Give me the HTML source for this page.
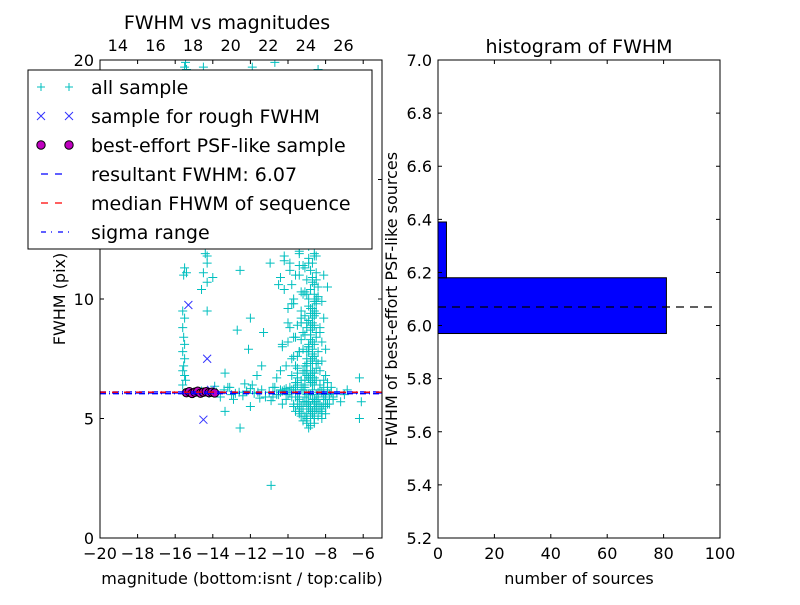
<!DOCTYPE html>
<html><head><meta charset="utf-8">
<style>
body{margin:0;background:#fff;}
svg{font-family:"DejaVu Sans","Liberation Sans",sans-serif;}
</style></head>
<body>
<svg id="fig" width="800" height="600" viewBox="0 0 800 600">
<rect width="800" height="600" fill="#fff"/>
<g id="left"></g>
<g id="right"></g>
</svg>
<script>
// ---------- data ----------
const allMag = [
-15.5,-15.45,-15.4,-14.5,-11.9,-10.7,-8.4,-14.4,-9.4,-10.2,
-15.4,-14.5,-14.3,-14.3,-14.3,-14.6,-14.0,-14.3,-12.55,-12.7,-12.0,-12.1,-13.35,-11.65,-13.35,-12.0,-12.55,-10.95,-11.3,-11.4,-8.1,-6.2,-6.1,-6.2,-6.85,-8.9,-10.9,
-15.6,-15.5,-15.6,-15.55,-15.5,-15.6,-15.5,-15.55,-15.6,-15.5,-15.45,-15.6,-15.5,-15.55,
-15.0,-14.6,-14.2,-13.8,-13.4,-13.0,-12.6,-12.2,-11.8,-11.4,-11.0,-10.6,-10.3,-13.6,-13.2,-12.8,-12.4,-12.0,-11.6,-11.2,-10.8,-10.4,-13.9,-12.9,-11.9,-10.9,-12.3,-11.5,-13.1,-10.1,
-10.0,-9.8,-9.6,-9.4,-9.2,-9.0,-8.8,-8.6,-8.4,-8.2,-8.0,-7.8,-7.6,-7.4,-7.2,-7.0,-9.9,-9.7,-9.5,-9.3,-9.1,-8.9,-8.7,-8.5,-8.3,-8.1,-7.9,-7.7,
-9.6,-9.4,-9.2,-9.0,-8.8,-8.6,-8.4,-8.2,-8.0,-9.5,-9.3,-9.1,-8.9,-8.7,-8.5,-8.3,-8.1,-7.9,-9.7,-9.0,-8.6,-8.2,
-9.2,-9.0,-8.9,-8.8,-8.7,-8.6,-8.5,-9.1,-8.9,-8.8,-8.7,-8.6,-8.5,-8.4,-9.0,-8.8,-8.7,-8.6,-8.5,-8.9,-8.7,-8.6,-8.5,-8.8,-8.7,-8.6,-8.9,-8.8,-8.6,-8.7,-8.5,-8.8,-8.6,-8.7,-8.9,-8.8,
-9.6,-9.8,-10.1,-9.5,-10.3,-9.9,-9.3,-10.0,-9.7,-10.2,-9.4,-9.9,-10.4,-9.6,-9.2,-10.6,-9.5,-9.8,-10.0,-9.3,-9.7,-10.5,-9.1,-9.4,
-9.0,-8.6,-8.2,-7.8,-9.2,-8.8,-8.4,-8.0,-9.4,-8.5,-7.6,-8.9,-8.3,-8.7,-9.1,-8.1,
-9.1,-8.9,-8.7,-8.5,-9.0,-8.8,-8.6,-8.4,-9.2,-8.9,-8.7,-8.5,-9.1,-8.8,-8.6,-9.0,-8.7,-8.5,-9.3,-8.9,-8.6,-8.4,-9.1,-8.8,-8.6,-9.0,-8.7,-8.5,-9.2,-8.9,-8.7,-9.0,-8.8,-8.6,-9.1,-8.8,-8.5,-9.0,-8.7,-9.2,-8.9,-8.6,-9.1,-8.8,-9.0,-8.7,-9.3,-9.0,-8.8,-9.1,
-10.8,-10.5,-10.2,-9.9,-9.6,-9.3,-9.0,-8.7,-8.4,-8.1,-7.8,-10.7,-10.4,-10.1,-9.8,-9.5,-9.2,-8.9,-8.6,-8.3,-8.0,-7.7,-10.3,-9.7,-9.1,-8.5,-7.9,-9.4,-8.8,-8.2,
-9.5,-9.2,-8.9,-8.6,-8.3,-9.4,-9.1,-8.8,-8.5,-8.2,-9.3,-9.0,-8.7,-8.4,-9.6,-9.0,-8.6,-8.8,
-9.6,-9.4,-8.2,-8.0,-9.7,-9.5,-8.3,-8.1,-9.8,-9.3,-8.2,-7.9,-9.6,-9.4,-8.3,-8.0,-9.5,-8.1,-9.7,-8.2,
-10.2,-9.9,-9.4,-8.9,-8.5,-10.4,-9.8,-9.2,-8.8,-8.3,-10.0,-9.6,-9.0,-8.4,-10.3,-9.5
];
const allFwhm = [
19.7,19.9,19.6,19.7,19.7,19.9,19.6,11.9,12.0,11.8,
11.1,11.1,11.8,11.5,10.7,10.4,10.9,9.5,11.2,8.7,9.2,7.9,6.9,6.8,5.3,5.5,4.6,11.5,8.6,7.2,11.0,6.7,5.7,5.0,6.2,4.6,2.2,
9.5,9.2,8.8,8.4,8.1,7.8,7.5,7.2,7.0,6.8,6.6,6.4,11.3,11.0,
6.1,6.15,6.05,6.1,6.2,6.0,6.1,6.15,6.05,6.2,6.1,6.0,6.15,5.9,6.3,6.05,5.95,6.25,6.1,5.9,6.3,6.2,6.35,5.8,6.4,5.75,6.45,5.85,6.3,6.25,
6.0,5.9,6.1,5.8,6.2,5.7,6.0,5.6,5.9,6.1,5.8,6.0,5.9,6.1,5.7,6.0,6.3,6.2,6.4,5.5,6.3,5.4,6.2,5.5,6.4,5.6,6.2,6.3,
5.3,5.2,5.4,5.0,5.5,5.3,5.1,5.4,5.2,6.5,6.6,6.4,6.7,6.5,6.6,6.4,6.3,6.5,5.6,4.9,4.8,5.0,
7.0,7.5,8.0,8.5,9.0,9.5,10.0,7.2,7.8,8.3,8.8,9.3,9.8,10.5,6.8,7.0,7.6,8.1,8.6,9.1,9.6,10.2,10.8,11.2,11.5,11.8,12.2,12.6,6.9,7.3,7.4,8.9,6.7,7.9,10.0,6.6,
6.5,6.8,7.2,7.6,8.1,8.8,9.2,9.6,10.0,10.4,11.0,11.5,7.0,6.3,6.2,6.7,6.9,7.5,8.2,9.0,9.8,10.6,11.3,7.8,
5.2,5.0,5.3,5.6,4.9,5.1,5.4,5.5,5.9,6.0,5.8,5.7,5.4,5.3,5.1,6.0,
6.6,6.7,6.9,7.1,7.3,7.4,7.6,7.8,7.9,8.0,8.2,8.4,8.5,8.7,8.9,9.0,9.2,9.4,9.5,9.7,9.9,10.1,10.3,10.4,10.6,10.8,10.9,11.1,8.6,8.1,7.7,7.2,6.8,6.4,9.3,9.6,9.9,10.2,10.7,11.4,11.7,11.9,12.3,12.5,7.0,7.5,8.3,8.8,6.5,6.9,
5.9,6.0,6.2,6.1,5.9,6.2,6.0,5.8,6.1,5.9,6.0,6.3,6.1,5.8,6.2,5.9,6.3,6.0,5.7,6.2,5.8,6.1,5.6,5.5,5.7,5.4,5.6,5.3,5.5,5.2,
5.6,5.7,5.5,5.8,5.6,5.4,5.9,5.3,5.7,5.5,5.1,5.6,5.2,5.8,5.9,4.8,5.0,4.7,
7.2,7.8,7.4,7.9,8.4,8.9,8.6,9.2,9.8,10.3,9.9,10.5,11.0,11.4,7.0,6.8,6.7,6.6,7.6,8.2,
11.6,11.2,11.9,11.5,11.8,10.9,10.6,10.2,9.4,8.8,9.0,8.4,7.8,7.3,8.0,7.1
];
const roughMag = [-15.3,-14.3,-14.5,-14.1];
const roughFwhm = [9.75,7.5,4.95,6.2];
const psfMag = [-15.4,-15.25,-15.1,-14.95,-14.8,-14.65,-14.5,-14.35,-14.2,-14.05,-13.9];
const psfFwhm = [6.08,6.12,6.05,6.1,6.14,6.06,6.1,6.12,6.08,6.1,6.07];
const resultFwhm = 6.07;
const medianFwhm = 6.1;
const sigmaRange = [6.04,6.11];
const xTicks = [-20,-18,-16,-14,-12,-10,-8,-6];
const yTicks = [0,5,10,15,20];
const topTicks = [14,16,18,20,22,24,26];
const topOffset = 33.05;
// histogram
const binEdges = [5.97,6.18,6.39];
const binCounts = [81,3];
const hxTicks = [0,20,40,60,80,100];
const hyTicks = [5.2,5.4,5.6,5.8,6.0,6.2,6.4,6.6,6.8,7.0];

const NS="http://www.w3.org/2000/svg";
function mk(parent,tag,attrs,text){const e=document.createElementNS(NS,tag);for(const k in attrs)e.setAttribute(k,attrs[k]);if(text!==undefined)e.textContent=text;parent.appendChild(e);return e;}

// ---------- left panel ----------
const L=document.getElementById('left');
const lx0=100,lx1=382,ly0=60,ly1=538;
const xs=v=>lx0+(v-(-20))/15*(lx1-lx0);
const ys=v=>ly1-(v/20)*(ly1-ly0);
const clip=mk(L,'clipPath',{id:'lclip'});mk(clip,'rect',{x:lx0,y:ly0,width:lx1-lx0,height:ly1-ly0});
const pts=mk(L,'g',{'clip-path':'url(#lclip)'});


for(let i=0;i<allMag.length;i++){
  const x=xs(allMag[i]),y=ys(allFwhm[i]);
  const p=mk(pts,'path',{d:`M${x-4.5},${y}H${x+4.5}M${x},${y-4.5}V${y+4.5}`,stroke:'#00bfbf','stroke-width':1});
  
  
}
for(let i=0;i<roughMag.length;i++){
  const x=xs(roughMag[i]),y=ys(roughFwhm[i]);
  const p=mk(pts,'path',{d:`M${x-4},${y-4}L${x+4},${y+4}M${x-4},${y+4}L${x+4},${y-4}`,stroke:'#3333ff','stroke-width':1});
  
  
}
for(let i=0;i<psfMag.length;i++){
  const c=mk(pts,'circle',{cx:xs(psfMag[i]),cy:ys(psfFwhm[i]),r:4.2,fill:'#bf00bf',stroke:'#000','stroke-width':1});
  
  
}
function hline(g,v,color,dash,name){const l=mk(g,'line',{x1:lx0,x2:lx1,y1:ys(v),y2:ys(v),stroke:color,'stroke-width':1.4,'stroke-dasharray':dash});}
hline(pts,sigmaRange[0],'#0000ff','6 3 1 3','sigma-low-line');
hline(pts,sigmaRange[1],'#0000ff','6 3 1 3','sigma-high-line');
hline(pts,resultFwhm,'#0000ff','6 6','resultant-fwhm-line');
hline(pts,medianFwhm,'#ff0000','6 6','median-fwhm-line');
mk(L,'rect',{x:lx0,y:ly0,width:lx1-lx0,height:ly1-ly0,fill:'none',stroke:'#000','stroke-width':1});
const lt=mk(L,'g',{'font-size':16,fill:'#000'});
xTicks.forEach(t=>{const x=xs(t);mk(lt,'path',{d:`M${x},${ly1}v-4M${x},${ly0}v4`,stroke:'#000'});
  const e=mk(lt,'text',{x:x,y:ly1+21,'text-anchor':'middle'},t<0?'\u2212'+(-t):t);});
yTicks.forEach(t=>{const y=ys(t);mk(lt,'path',{d:`M${lx0},${y}h4M${lx1},${y}h-4`,stroke:'#000'});
  const e=mk(lt,'text',{x:lx0-6,y:y+6,'text-anchor':'end'},t);});
topTicks.forEach(t=>{const x=xs(t-topOffset);
  const e=mk(lt,'text',{x:x,y:ly0-9,'text-anchor':'middle'},t);});
mk(L,'text',{x:227,y:29,'text-anchor':'middle','font-size':19,},'FWHM vs magnitudes');
mk(L,'text',{x:242,y:584,'text-anchor':'middle','font-size':16,},'magnitude (bottom:isnt / top:calib)');
mk(L,'text',{x:0,y:0,transform:'translate(65,299) rotate(-90)','text-anchor':'middle','font-size':16,},'FWHM (pix)');

// legend
const lg=mk(L,'g',{});
mk(lg,'rect',{x:28,y:70,width:344,height:179,fill:'#fff',stroke:'#000','stroke-width':1});
const labels=['all sample','sample for rough FWHM','best-effort PSF-like sample','resultant FWHM: 6.07','median FHWM of sequence','sigma range'];
labels.forEach((s,i)=>{const y=87+i*29;
  const e=mk(lg,'text',{x:91,y:y+7,'font-size':19},s);
  [41,69].forEach(x=>{
    if(i==0)mk(lg,'path',{d:`M${x-4},${y}h8M${x},${y-4}v8`,stroke:'#00bfbf'});
    if(i==1)mk(lg,'path',{d:`M${x-4},${y-4}l8,8M${x-4},${y+4}l8,-8`,stroke:'#3333ff'});
    if(i==2)mk(lg,'circle',{cx:x,cy:y,r:4.2,fill:'#bf00bf',stroke:'#000'});
  });
  if(i==3)mk(lg,'line',{x1:41,x2:69,y1:y,y2:y,stroke:'#0000ff','stroke-width':1.2,'stroke-dasharray':'7 7'});
  if(i==4)mk(lg,'line',{x1:41,x2:69,y1:y,y2:y,stroke:'#ff0000','stroke-width':1.2,'stroke-dasharray':'7 7'});
  if(i==5)mk(lg,'line',{x1:41,x2:69,y1:y,y2:y,stroke:'#0000ff','stroke-width':1.2,'stroke-dasharray':'5 5 1 6'});
});

// ---------- right panel ----------
const R=document.getElementById('right');
const rx0=438,rx1=720,ry0=60,ry1=538;
const hx=v=>rx0+v/100*(rx1-rx0);
const hy=v=>ry1-(v-5.2)/1.8*(ry1-ry0);
for(let i=0;i<binCounts.length;i++){
  const r=mk(R,'rect',{x:hx(0),y:hy(binEdges[i+1]),width:hx(binCounts[i])-hx(0),height:hy(binEdges[i])-hy(binEdges[i+1]),fill:'#0000ff',stroke:'#000','stroke-width':1});
  
  
}
const ml=mk(R,'line',{x1:rx0,x2:rx1-6,y1:hy(resultFwhm),y2:hy(resultFwhm),stroke:'#000','stroke-width':1.2,'stroke-dasharray':'8 6'});


mk(R,'rect',{x:rx0,y:ry0,width:rx1-rx0,height:ry1-ry0,fill:'none',stroke:'#000'});
const rt=mk(R,'g',{'font-size':16});
hxTicks.forEach(t=>{const x=hx(t);mk(rt,'path',{d:`M${x},${ry1}v-4M${x},${ry0}v4`,stroke:'#000'});
  const e=mk(rt,'text',{x:x,y:ry1+21,'text-anchor':'middle'},t);});
hyTicks.forEach(t=>{const y=hy(t);mk(rt,'path',{d:`M${rx0},${y}h4M${rx1},${y}h-4`,stroke:'#000'});
  const e=mk(rt,'text',{x:rx0-6,y:y+6,'text-anchor':'end'},t.toFixed(1));});
mk(R,'text',{x:579,y:53,'text-anchor':'middle','font-size':19,},'histogram of FWHM');
mk(R,'text',{x:579,y:584,'text-anchor':'middle','font-size':16,},'number of sources');
mk(R,'text',{x:0,y:0,transform:'translate(397,299) rotate(-90)','text-anchor':'middle','font-size':16,},'FWHM of best-effort PSF-like sources');
</script>
</body></html>
